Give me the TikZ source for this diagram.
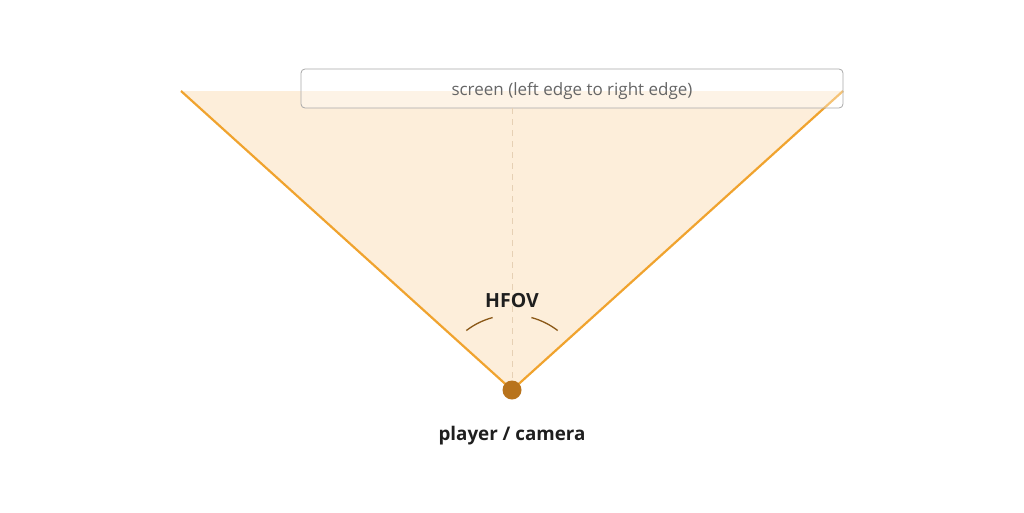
\documentclass[tikz,border=0pt]{standalone}
\usepackage{fontspec}
\setmainfont{Open Sans}
\definecolor{fov}{HTML}{F0A32E}
\definecolor{fovfill}{HTML}{FDEEDA}
\definecolor{dotc}{HTML}{B8731C}
\definecolor{arcc}{HTML}{8A5716}
\definecolor{boxc}{HTML}{A8A8A8}
\definecolor{txtg}{HTML}{666666}
\definecolor{dashc}{HTML}{E6D0B4}
\tikzset{
  edge/.style={draw=fov, line width=2.2pt},
  anglearc/.style={draw=arcc, line width=1.3pt},
  lbl/.style={text=black!88, inner sep=0pt},
}
\begin{document}
\begin{tikzpicture}[x=1pt,y=-1pt]
\useasboundingbox (0,0) rectangle (1024,512);
\coordinate (cam) at (512,390);
\coordinate (L) at (181,91);
\coordinate (R) at (843,91);
\fill[fovfill] (L) -- (R) -- (cam) -- cycle;
\draw[edge] (L) -- (cam) -- (R);
\node[draw=boxc, line width=0.8pt, rounded corners=4pt, fill=white, fill opacity=0.35,
      minimum width=542pt, minimum height=39pt, inner sep=0pt] (screen) at (572,88.5) {};
\node[text=txtg, font=\fontsize{17}{19}\selectfont, inner sep=0pt, anchor=base] (stxt) at (572,95) {screen (left edge to right edge)};
\draw[dashc, line width=1pt, dash pattern=on 6pt off 5pt] (screen.south -| cam) -- (cam);
\draw[anglearc] (cam) ++(232.5:75) arc[start angle=232.5, end angle=255, radius=75];
\draw[anglearc] (cam) ++(285:75) arc[start angle=285, end angle=307.5, radius=75];
\node[lbl, font=\fontsize{19.5}{22}\selectfont\bfseries, anchor=base] (hfov) at (512,307) {HFOV};
\fill[dotc] (cam) circle[radius=9.5];
\node[lbl, font=\fontsize{18.8}{22}\selectfont\bfseries, anchor=base] (player) at (512,440) {player / camera};
\end{tikzpicture}
\end{document}
